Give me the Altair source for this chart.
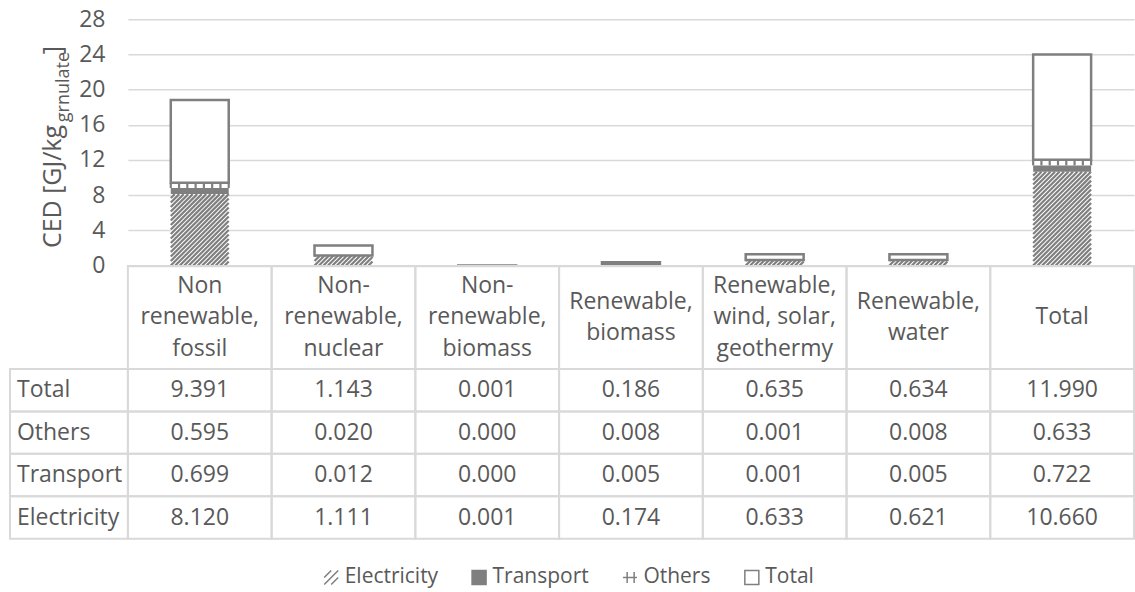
import altair as alt
import pandas as pd
import numpy as np

# ---------------- data ----------------
categories = [
    "Non\nrenewable,\nfossil",
    "Non-\nrenewable,\nnuclear",
    "Non-\nrenewable,\nbiomass",
    "Renewable,\nbiomass",
    "Renewable,\nwind, solar,\ngeothermy",
    "Renewable,\nwater",
    "Total",
]
electricity = [8.120, 1.111, 0.001, 0.174, 0.633, 0.621, 10.660]
transport = [0.699, 0.012, 0.000, 0.005, 0.001, 0.005, 0.722]
others = [0.595, 0.020, 0.000, 0.008, 0.001, 0.008, 0.633]
total = [9.391, 1.143, 0.001, 0.186, 0.635, 0.634, 11.990]
series = ["Electricity", "Transport", "Others", "Total"]
table_rows = ["Total", "Others", "Transport", "Electricity"]
y_ticks = [0, 4, 8, 12, 16, 20, 24, 28]
y_title = ["CED [GJ/kg", "grnulate", "]"]

# ---------------- styling / layout ----------------
FONT = "Open Sans"
TXT = "#595959"
GRAY = "#7f7f7f"
GRID = "#d9d9d9"

N = len(categories)
PLOT_W = 1007.0
BAR_H = 246.5
YMAX = 28
XS = PLOT_W / N          # px per x unit
YS = BAR_H / YMAX        # px per y unit
BAR_W_PX = 58.0
HALF = BAR_W_PX / 2 / XS
ROW_PX = 42.5
HDR_PX = 103.0
HDR = HDR_PX / ROW_PX
TABLE_H = HDR_PX + 4 * ROW_PX
LBL_W = 118.0 / XS
LINE_H = 31.5

values = {"Electricity": electricity, "Transport": transport,
          "Others": others, "Total": total}

# stacked segments
seg_rows = []
for i, cat in enumerate(categories):
    base = 0.0
    for s in series:
        v = values[s][i]
        seg_rows.append(dict(idx=i, series=s, x=i + 0.5 - HALF, x2=i + 0.5 + HALF,
                             y=base, y2=base + v))
        base += v
seg = pd.DataFrame(seg_rows)

# hatch lines for the Electricity segment (pattern fill)
P = 4.5
hatch = []
for i in range(N):
    H = electricity[i] * YS
    if H < 1.0:
        continue
    for c in np.arange(-np.ceil(H / P) * P, BAR_W_PX, P):
        xs_ = max(0.0, c)
        xe_ = min(BAR_W_PX, H + c)
        if xe_ - xs_ < 0.6:
            continue
        hatch.append(dict(x=i + 0.5 - HALF + xs_ / XS, x2=i + 0.5 - HALF + xe_ / XS,
                          y=(xs_ - c) / YS, y2=(xe_ - c) / YS))
hatch_df = pd.DataFrame(hatch)

# grid pattern for the Others segment
dash = []
for i in range(N):
    e, t, o = electricity[i], transport[i], others[i]
    if o * YS < 2:
        continue
    for k in range(8):
        xr = k * BAR_W_PX / 7
        dash.append(dict(x=i + 0.5 - HALF + xr / XS, y=e + t, y2=e + t + o))
dash_df = pd.DataFrame(dash)

xsc = alt.Scale(domain=[0, N], nice=False, zero=False)
ysc = alt.Scale(domain=[0, YMAX], nice=False)
yax = alt.Axis(values=y_ticks, grid=True, gridColor=GRID, gridWidth=1.5, domain=False,
               ticks=False, labelPadding=23, labelFont=FONT, labelFontSize=23,
               labelColor=TXT, title=None)


def X(f):
    return alt.X(f"{f}:Q", scale=xsc, axis=None)


def Y(f):
    return alt.Y(f"{f}:Q", scale=ysc, axis=yax)


base = alt.Chart(seg)
white_l = base.transform_filter(
    alt.FieldOneOfPredicate(field="series", oneOf=["Electricity", "Others"])
).mark_rect(fill="white").encode(x=X("x"), x2=alt.X2("x2:Q"), y=Y("y"), y2=alt.Y2("y2:Q"))
trans_l = base.transform_filter(alt.datum.series == "Transport").mark_rect(
    fill=GRAY).encode(x=X("x"), x2=alt.X2("x2:Q"), y=Y("y"), y2=alt.Y2("y2:Q"))
hatch_l = alt.Chart(hatch_df).mark_rule(stroke=GRAY, strokeWidth=2.2).encode(
    x=X("x"), x2=alt.X2("x2:Q"), y=Y("y"), y2=alt.Y2("y2:Q"))
dash_l = alt.Chart(dash_df).mark_rule(stroke=GRAY, strokeWidth=2.2).encode(
    x=X("x"), y=Y("y"), y2=alt.Y2("y2:Q"))
tot_l = base.transform_filter(alt.datum.series == "Total").mark_rect(
    fill="white", stroke=GRAY, strokeWidth=2.5).encode(
    x=X("x"), x2=alt.X2("x2:Q"), y=Y("y"), y2=alt.Y2("y2:Q"))


def title_part(k, px, py, fs):
    return alt.Chart(pd.DataFrame({"t": [y_title[k]]})).mark_text(
        angle=270, align="left", baseline="middle", font=FONT, fontSize=fs, color=TXT
    ).encode(x=alt.value(px), y=alt.value(py), text="t:N")


t0 = title_part(0, -75, 229, 25)
t1 = title_part(1, -64, 103, 18)
t2 = title_part(2, -75, 35, 25)

bar = alt.layer(white_l, trans_l, hatch_l, dash_l, tot_l, t0, t1, t2).properties(
    width=PLOT_W, height=BAR_H)

# ---------------- data table ----------------
cells = []
for i in range(N):
    cells.append(dict(x=i, x2=i + 1, y=0, y2=HDR))
    for r in range(4):
        cells.append(dict(x=i, x2=i + 1, y=HDR + r, y2=HDR + r + 1))
for r in range(4):
    cells.append(dict(x=-LBL_W, x2=0, y=HDR + r, y2=HDR + r + 1))
cells_df = pd.DataFrame(cells)

hdr_df = pd.DataFrame([
    dict(cat=c, x=i + 0.5,
         y=HDR / 2 - (c.count("\n")) / 2 * LINE_H / ROW_PX)
    for i, c in enumerate(categories)])
val_df = pd.DataFrame([dict(x=i + 0.5, y=HDR + r + 0.5, v=values[row][i])
                       for r, row in enumerate(table_rows) for i in range(N)])
lbl_df = pd.DataFrame([dict(row=row, x=-LBL_W + 7 / XS, y=HDR + r + 0.5)
                       for r, row in enumerate(table_rows)])

txs = alt.Scale(domain=[0, N], nice=False, zero=False)
tys = alt.Scale(domain=[0, HDR + 4], nice=False, zero=False, reverse=True)


def TX(f):
    return alt.X(f"{f}:Q", scale=txs, axis=None)


def TY(f):
    return alt.Y(f"{f}:Q", scale=tys, axis=None)


cells_l = alt.Chart(cells_df).mark_rect(fill="white", fillOpacity=0, stroke=GRID,
                                        strokeWidth=2).encode(
    x=TX("x"), x2=alt.X2("x2:Q"), y=TY("y"), y2=alt.Y2("y2:Q"))
hdr_l = alt.Chart(hdr_df).mark_text(font=FONT, fontSize=23, color=TXT, lineBreak="\n",
                                    lineHeight=LINE_H, baseline="middle").encode(
    x=TX("x"), y=TY("y"), text="cat:N")
val_l = alt.Chart(val_df).mark_text(font=FONT, fontSize=23, color=TXT,
                                    baseline="middle").encode(
    x=TX("x"), y=TY("y"), text=alt.Text("v:Q", format=".3f"))
lbl_l = alt.Chart(lbl_df).mark_text(font=FONT, fontSize=23, color=TXT, align="left",
                                    baseline="middle").encode(
    x=TX("x"), y=TY("y"), text="row:N")

hatch_path = "M -1 1 L 1 -1 M -1 0 L 0 -1 M 0 1 L 1 0"
others_path = "M -1 0 L 1 0 M -0.4 -0.8 L -0.4 0.8 M 0.6 -0.8 L 0.6 0.8"
leg = alt.Legend(title=None, orient="none", legendX=193, legendY=548,
                 direction="horizontal", labelFont=FONT, labelFontSize=21,
                 labelColor=TXT, symbolSize=196, symbolStrokeWidth=1.5,
                 labelOffset=3, columnPadding=30)
legend_l = alt.Chart(pd.DataFrame({"series": series})).transform_filter("false").mark_point(
    filled=True, opacity=1).encode(
    x=alt.value(0), y=alt.value(0),
    fill=alt.Fill("series:N", scale=alt.Scale(domain=series,
                  range=[GRAY, GRAY, "white", "white"]), legend=leg),
    stroke=alt.Stroke("series:N", scale=alt.Scale(domain=series,
                      range=[GRAY, GRAY, GRAY, GRAY]), legend=leg),
    shape=alt.Shape("series:N", scale=alt.Scale(domain=series,
                    range=[hatch_path, "square", others_path, "square"]), legend=leg),
)

table = alt.layer(cells_l, hdr_l, val_l, lbl_l, legend_l).properties(
    width=PLOT_W, height=TABLE_H)

chart = alt.vconcat(bar, table, spacing=0, bounds="flush").properties(
    padding={"left": 9, "top": 8, "right": 0, "bottom": 0},
    background="white",
).configure(font=FONT).configure_view(strokeWidth=0)

chart.save("out.html", embed_options={"renderer": "svg", "actions": False})
